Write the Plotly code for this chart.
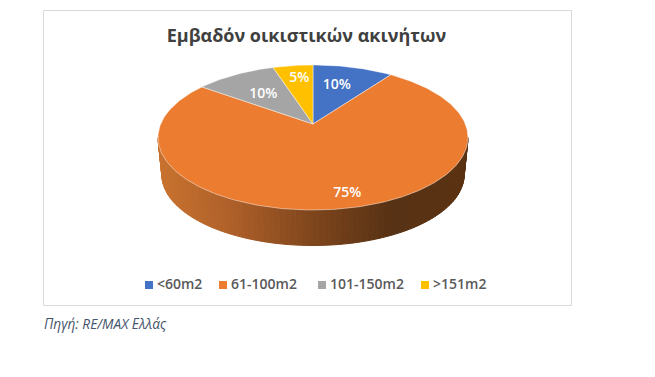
import math
import plotly.graph_objects as go

# ---- data ----
TITLE = "Εμβαδόν οικιστικών ακινήτων"
SOURCE = "Πηγή: RE/MAX Ελλάς"
categories = ["<60m2", "61-100m2", "101-150m2", ">151m2"]
values = [10, 75, 10, 5]
colors = ["#4472C4", "#EB7C30", "#A5A5A5", "#FFC000"]

# ---- presentation constants (pixels of the 655x377 page) ----
W, H = 655, 377
APEX_X, APEX_Y = 313, 124
PERSP, SCALE_X, SCALE_Y = 0.1862, 152.3, 70.0
RIM_CY, WALL_SCALE, WALL_DROP = 138, 0.975, 37.3
LABEL_R = [0.66, 0.80, 0.62, 0.80]
LABEL_NUDGE = [(-4, 1), (12, 5), (1, 3), (3, 3)]
LEGEND_X = [149, 223, 322, 425]
LEGEND_TEXT_GAP = 8
LEGEND_Y = 285
LEGEND_TEXT_Y = 285.5
FONT = "Open Sans"


def project(angle_deg, r=1.0):
    """Tilted-disc projection: angle is clockwise from 12 o'clock."""
    a = math.radians(angle_deg)
    x, y = r * math.sin(a), r * math.cos(a)
    w = 1 + PERSP * y
    return APEX_X + SCALE_X * x / w, APEX_Y - SCALE_Y * y / w


def wall_point(angle_deg):
    px, py = project(angle_deg)
    return APEX_X + WALL_SCALE * (px - APEX_X), RIM_CY + WALL_SCALE * (py - RIM_CY) + WALL_DROP


def mix(stops, t):
    for (t0, c0), (t1, c1) in zip(stops, stops[1:]):
        if t <= t1:
            f = (t - t0) / (t1 - t0)
            return "rgb(%d,%d,%d)" % tuple(round(a + (b - a) * f) for a, b in zip(c0, c1))
    return "rgb(%d,%d,%d)" % stops[-1][1]


WALL_STOPS = [(0.0, (200, 114, 46)), (0.23, (176, 97, 42)), (0.5, (128, 70, 28)),
              (0.75, (88, 50, 20)), (1.0, (90, 50, 18))]

fig = go.Figure()

# Side wall: strips along the front rim, right-hand extreme to left-hand extreme.
edge = math.degrees(math.acos(-PERSP))
steps = 90
for i in range(steps):
    a0 = edge + (360 - 2 * edge) * i / steps
    a1 = edge + (360 - 2 * edge) * (i + 1) / steps
    p0, p1, q1, q0 = project(a0), project(a1), wall_point(a1), wall_point(a0)
    t = (p0[0] - (APEX_X - 155)) / 310
    c = mix(WALL_STOPS, t)
    fig.add_trace(go.Scatter(
        x=[p0[0], p1[0], q1[0], q0[0], p0[0]], y=[p0[1], p1[1], q1[1], q0[1], p0[1]],
        mode="lines", fill="toself", fillcolor=c, line=dict(color=c, width=1),
        hoverinfo="skip", showlegend=False))

# Top face: one wedge per category, swept from the values.
total = sum(values)
start = 0.0
for name, v, col in zip(categories, values, colors):
    sweep = 360 * v / total
    n = max(2, int(sweep))
    pts = [project(start + sweep * k / n) for k in range(n + 1)]
    xs = [APEX_X] + [p[0] for p in pts] + [APEX_X]
    ys = [APEX_Y] + [p[1] for p in pts] + [APEX_Y]
    fig.add_trace(go.Scatter(x=xs, y=ys, mode="lines", fill="toself", fillcolor=col,
                             line=dict(color="rgba(255,255,255,0.55)", width=0.8),
                             name=name, hoverinfo="name", showlegend=False))
    start += sweep

# Percentage labels
start = 0.0
for v, lr, (nx, ny) in zip(values, LABEL_R, LABEL_NUDGE):
    sweep = 360 * v / total
    lx, ly = project(start + sweep / 2, lr)
    fig.add_trace(go.Scatter(x=[lx + nx], y=[ly + ny], mode="text",
                             text=["%d%%" % round(100 * v / total)],
                             textposition="middle center",
                             textfont=dict(family=FONT, size=14, color="white", weight=600),
                             hoverinfo="skip", showlegend=False))
    start += sweep

# Legend row
for name, col, lx in zip(categories, colors, LEGEND_X):
    fig.add_trace(go.Scatter(x=[lx], y=[LEGEND_Y], mode="markers",
                             marker=dict(symbol="square", size=8, color=col),
                             name=name, hoverinfo="name", showlegend=False))
    fig.add_trace(go.Scatter(x=[lx + LEGEND_TEXT_GAP], y=[LEGEND_TEXT_Y], mode="text", text=[name],
                             textposition="middle right",
                             textfont=dict(family=FONT, size=14, color="#595959", weight=600),
                             hoverinfo="skip", showlegend=False))

fig.update_layout(
    width=W, height=H, autosize=False,
    margin=dict(l=0, r=0, t=0, b=0),
    paper_bgcolor="white", plot_bgcolor="white",
    xaxis=dict(range=[0, W], visible=False, fixedrange=True),
    yaxis=dict(range=[H, 0], visible=False, fixedrange=True),
    title=dict(text=TITLE, x=306.5 / W, y=1 - 36 / H, xanchor="center", yanchor="middle",
               font=dict(family=FONT, size=18, color="#404040", weight=700)),
    shapes=[dict(type="rect", xref="x", yref="y", x0=43.5, x1=571.5, y0=10.5, y1=305.5,
                 line=dict(color="#D9D9D9", width=1), fillcolor="rgba(0,0,0,0)", layer="below")],
    annotations=[dict(text=SOURCE, xref="x", yref="y", x=42, y=323, xanchor="left",
                      yanchor="middle", showarrow=False,
                      font=dict(family=FONT, size=13.7, color="#44546A", style="italic"))],
)
fig.write_html("out.html", config={"displayModeBar": False},
               post_script="document.body.style.margin='0';document.body.style.overflow='hidden';")
